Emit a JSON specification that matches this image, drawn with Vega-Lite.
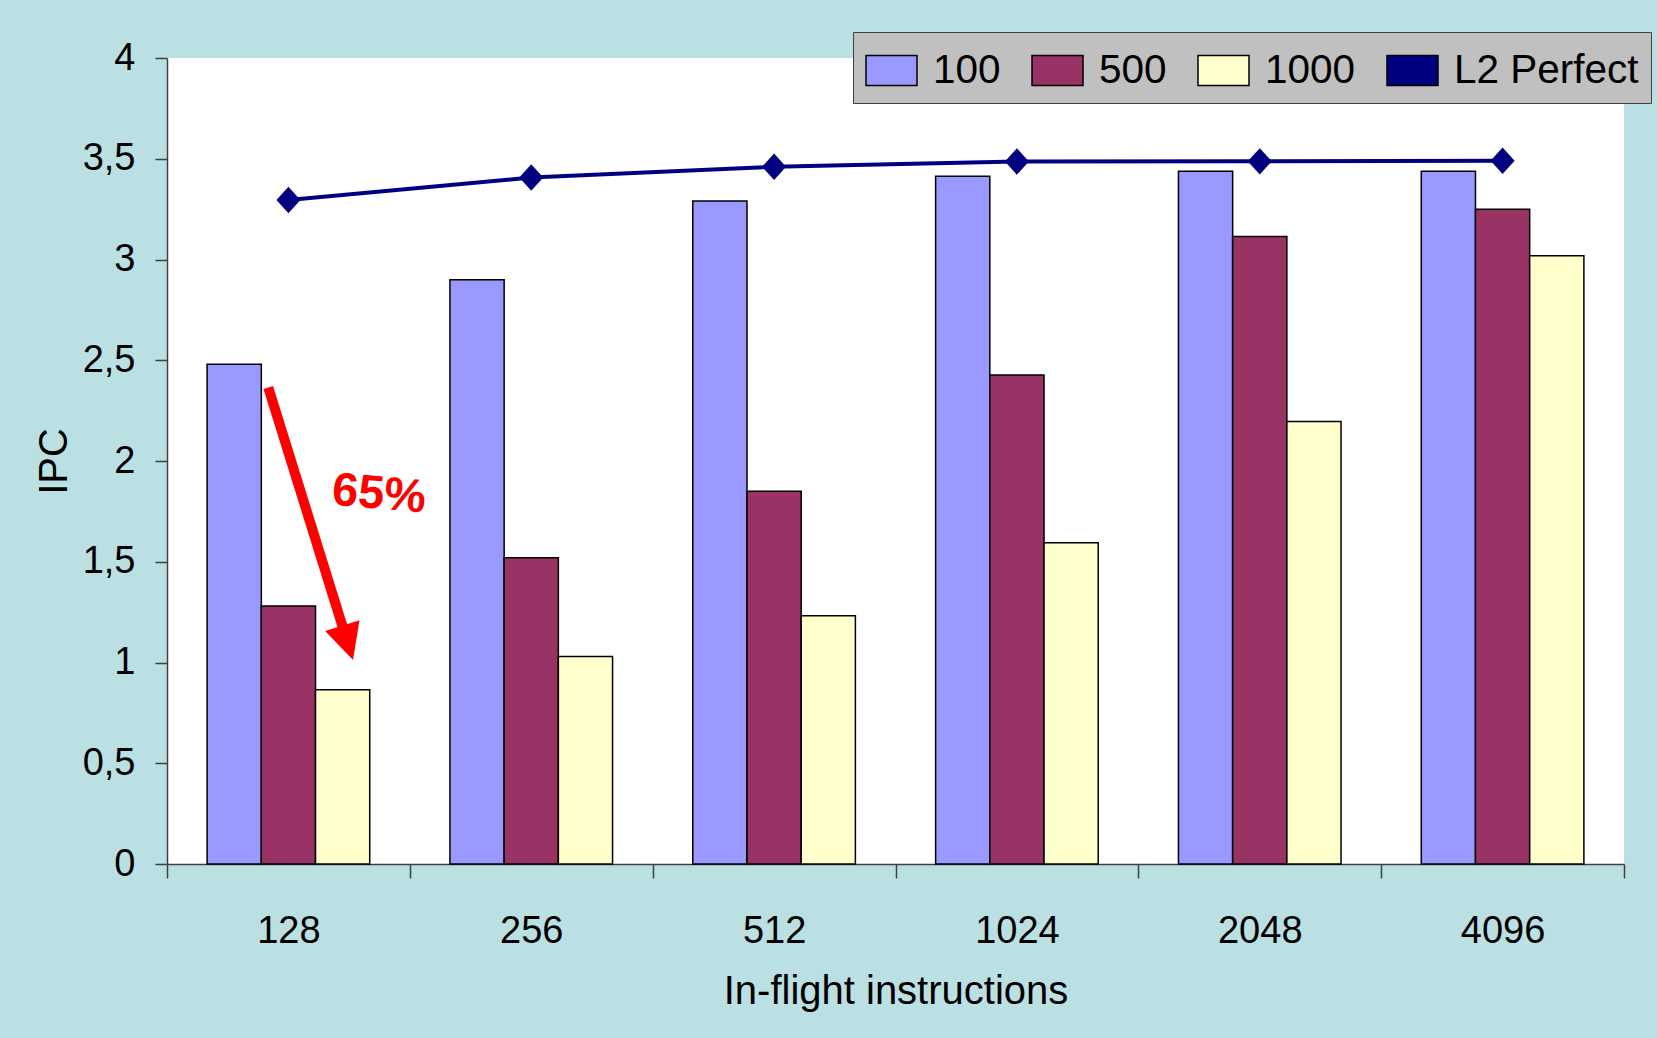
{
  "$schema": "https://vega.github.io/schema/vega-lite/v6.json",
  "width": 1457,
  "height": 806,
  "autosize": {"type": "none"},
  "padding": {"left": 167, "top": 58, "right": 33, "bottom": 174},
  "background": "#BBE0E3",
  "config": {"view": {"fill": "white", "stroke": null}, "font": "Liberation Sans"},
  "datasets": {
    "ipc": [
      {"inflight": 128, "series": "100", "ipc": 2.48},
      {"inflight": 128, "series": "500", "ipc": 1.28},
      {"inflight": 128, "series": "1000", "ipc": 0.865},
      {"inflight": 256, "series": "100", "ipc": 2.9},
      {"inflight": 256, "series": "500", "ipc": 1.52},
      {"inflight": 256, "series": "1000", "ipc": 1.03},
      {"inflight": 512, "series": "100", "ipc": 3.29},
      {"inflight": 512, "series": "500", "ipc": 1.85},
      {"inflight": 512, "series": "1000", "ipc": 1.232},
      {"inflight": 1024, "series": "100", "ipc": 3.413},
      {"inflight": 1024, "series": "500", "ipc": 2.427},
      {"inflight": 1024, "series": "1000", "ipc": 1.594},
      {"inflight": 2048, "series": "100", "ipc": 3.438},
      {"inflight": 2048, "series": "500", "ipc": 3.114},
      {"inflight": 2048, "series": "1000", "ipc": 2.196},
      {"inflight": 4096, "series": "100", "ipc": 3.438},
      {"inflight": 4096, "series": "500", "ipc": 3.25},
      {"inflight": 4096, "series": "1000", "ipc": 3.018},
      {"inflight": 128, "series": "L2 Perfect", "ipc": 3.295},
      {"inflight": 256, "series": "L2 Perfect", "ipc": 3.407},
      {"inflight": 512, "series": "L2 Perfect", "ipc": 3.46},
      {"inflight": 1024, "series": "L2 Perfect", "ipc": 3.486},
      {"inflight": 2048, "series": "L2 Perfect", "ipc": 3.487},
      {"inflight": 4096, "series": "L2 Perfect", "ipc": 3.49}
    ],
    "notes": [
      {"kind": "shaft", "x": 0.417, "y": 2.365, "x2": 0.729, "y2": 1.155},
      {"kind": "head", "x": 0.744, "y": 1.098},
      {"kind": "text", "x": 0.873, "y": 1.833, "label": "65%"}
    ]
  },
  "layer": [
    {
      "data": {"name": "ipc"},
      "layer": [
        {
          "transform": [{"filter": "datum.series !== 'L2 Perfect'"}],
          "mark": {"type": "bar", "stroke": "black", "strokeWidth": 1.5, "opacity": 1},
          "encoding": {
            "x": {
              "field": "inflight", "type": "ordinal",
              "scale": {"paddingInner": 0, "paddingOuter": 0},
              "axis": {
                "title": "In-flight instructions", "labelAngle": 0, "tickBand": "extent",
                "tickSize": 14, "tickColor": "#404040", "tickWidth": 1.5,
                "domainColor": "#404040", "domainWidth": 1.5,
                "labelFontSize": 38, "labelColor": "black", "labelPadding": 34,
                "titleFontSize": 40, "titleFontWeight": "normal", "titleColor": "black", "titlePadding": 21
              }
            },
            "xOffset": {
              "field": "series", "type": "nominal", "sort": ["100", "500", "1000"],
              "scale": {"paddingInner": 0, "paddingOuter": 0.74}
            },
            "y": {
              "field": "ipc", "type": "quantitative", "title": "IPC",
              "scale": {"domain": [0, 4], "nice": false, "zero": true},
              "axis": {
                "title": "IPC", "values": [0, 0.5, 1, 1.5, 2, 2.5, 3, 3.5, 4], "grid": false,
                "tickSize": 12, "tickColor": "#404040", "tickWidth": 1.5,
                "domainColor": "#404040", "domainWidth": 1.5,
                "labelFontSize": 38, "labelColor": "black", "labelPadding": 20,
                "labelFlush": false, "labelOverlap": false,
                "labelExpr": "replace(format(datum.value, '~g'), '.', ',')",
                "titleFontSize": 40, "titleFontWeight": "normal", "titleColor": "black", "titlePadding": 8
              }
            },
            "color": {
              "field": "series", "type": "nominal",
              "scale": {"domain": ["100", "500", "1000", "L2 Perfect"], "range": ["#9999FF", "#993366", "#FFFFCC", "#000080"]},
              "legend": {
                "title": null, "orient": "none", "legendX": 686, "legendY": -26, "direction": "horizontal",
                "fillColor": "#C0C0C0", "strokeColor": "#404040", "padding": 12,
                "labelFontSize": 40.5, "labelColor": "black", "labelFont": "Liberation Sans", "labelLimit": 500,
                "labelOffset": 15, "columnPadding": 28,
                "symbolSize": 2601, "symbolType": "M-1,-0.59H1V0.59H-1Z",
                "encode": {
                  "symbols": {
                    "shape": {"condition": {"test": "datum.label === 'L2 Perfect' || datum.index === 3 || datum.value === 'L2 Perfect'", "value": "M-1.06,0H1.06M0,-0.41L0.33,0L0,0.41L-0.33,0Z"}, "value": "M-1,-0.59H1V0.59H-1Z"},
                    "stroke": {"condition": {"test": "datum.label === 'L2 Perfect' || datum.index === 3 || datum.value === 'L2 Perfect'", "value": "#000080"}, "value": "black"},
                    "strokeWidth": {"condition": {"test": "datum.label === 'L2 Perfect' || datum.index === 3 || datum.value === 'L2 Perfect'", "value": 4}, "value": 2}
                  }
                }
              }
            }
          }
        },
        {
          "transform": [{"filter": "datum.series === 'L2 Perfect'"}],
          "mark": {"type": "line", "strokeWidth": 4, "color": "#000080"},
          "encoding": {
            "x": {"field": "inflight", "type": "ordinal"},
            "y": {"field": "ipc", "type": "quantitative", "title": "IPC"}
          }
        },
        {
          "transform": [{"filter": "datum.series === 'L2 Perfect'"}],
          "mark": {"type": "point", "filled": true, "opacity": 1, "color": "#000080", "shape": "M0,-1.1L1,0L0,1.1L-1,0Z", "size": 576},
          "encoding": {
            "x": {"field": "inflight", "type": "ordinal"},
            "y": {"field": "ipc", "type": "quantitative", "title": "IPC"}
          }
        }
      ]
    },
    {
      "data": {"name": "notes"},
      "layer": [
        {
          "transform": [{"filter": "datum.kind === 'shaft'"}],
          "mark": {"type": "rule", "color": "#FF0000", "strokeWidth": 10},
          "encoding": {
            "x": {"field": "x", "type": "quantitative", "scale": {"domain": [0, 6], "nice": false, "zero": true}, "axis": null},
            "x2": {"field": "x2"},
            "y": {"field": "y", "type": "quantitative", "title": "IPC"},
            "y2": {"field": "y2"}
          }
        },
        {
          "transform": [{"filter": "datum.kind === 'head'"}],
          "mark": {"type": "point", "filled": true, "color": "#FF0000", "opacity": 1, "shape": "M-1,-1L1,-1L0,1Z", "size": 1296, "angle": 342.7},
          "encoding": {
            "x": {"field": "x", "type": "quantitative", "axis": null},
            "y": {"field": "y", "type": "quantitative", "title": "IPC"}
          }
        },
        {
          "transform": [{"filter": "datum.kind === 'text'"}],
          "mark": {"type": "text", "color": "#FF0000", "font": "Liberation Sans", "fontSize": 47, "fontWeight": "bold", "angle": 5, "align": "center", "baseline": "middle"},
          "encoding": {
            "x": {"field": "x", "type": "quantitative", "axis": null},
            "y": {"field": "y", "type": "quantitative", "title": "IPC"},
            "text": {"field": "label"}
          }
        }
      ]
    }
  ],
  "resolve": {"scale": {"x": "independent"}}
}
